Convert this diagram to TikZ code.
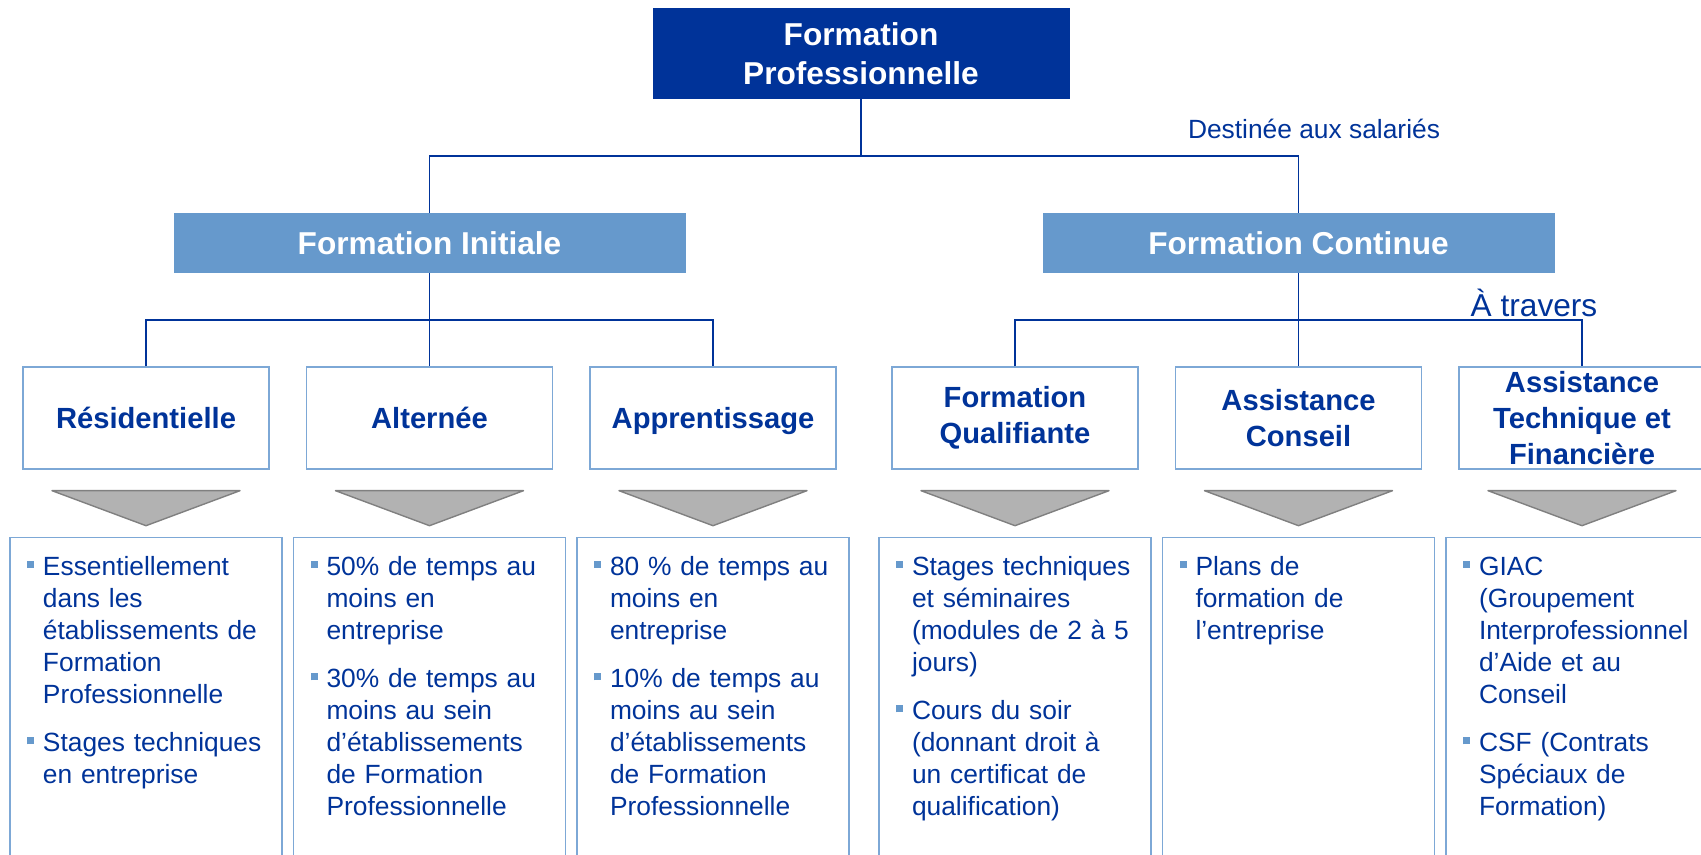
\documentclass[tikz,border=0pt]{standalone}
\usepackage{fontspec}
\setmainfont{Liberation Sans}
\usetikzlibrary{positioning,calc}

\definecolor{bleufonce}{RGB}{0,51,153}
\definecolor{bleumoyen}{RGB}{102,153,204}
\definecolor{bleuclair}{RGB}{125,168,214}
\definecolor{grisfleche}{RGB}{178,178,178}

% puce carree des listes
\newcommand{\puce}{\par\noindent\hangindent=0.34cm\hangafter=1\strut\makebox[0.34cm][l]{\hspace{0.02cm}\textcolor{bleumoyen}{\rule[4.2pt]{4pt}{4pt}}}}
\newcommand{\ecart}{\par\vspace{9.5pt}}

\begin{document}
\begin{tikzpicture}[
    racine/.style={fill=bleufonce, minimum width=8.34cm, minimum height=1.82cm, inner sep=0pt,
        align=center, text=white, font=\bfseries\fontsize{18}{22}\selectfont},
    branche/.style={fill=bleumoyen, minimum width=10.24cm, minimum height=1.2cm, inner sep=0pt,
        text=white, font=\bfseries\fontsize{18}{21.6}\selectfont},
    sous/.style={draw=bleuclair, line width=0.8pt, minimum width=4.92cm, minimum height=2.04cm,
        inner sep=0pt, align=center, text=bleufonce, font=\bfseries\fontsize{16.6}{20.4}\selectfont},
    corps/.style={draw=bleuclair, line width=0.8pt, anchor=north, text width=4.80cm,
        inner xsep=0.32cm, inner ysep=0.11cm, align=left, text=bleufonce,
        font=\fontsize{15}{18.2}\selectfont},
    lien/.style={draw=bleufonce, line width=0.85pt},
    fleche/.style={fill=grisfleche, draw=gray, line width=0.8pt, line join=round},
    etiquette/.style={text=bleufonce, inner sep=0pt}
]

\clip (0,0) rectangle (34.02,17.1);

\node[racine] (titre) at (17.22,16.03) {Formation\\Professionnelle};

\node[branche] (fi) at (8.59,12.24) {Formation Initiale};
\node[branche] (fc) at (25.97,12.24) {Formation Continue};

\node[etiquette, font=\fontsize{15}{18}\selectfont] (dest) at (26.28,14.52) {Destinée aux salariés};
\node[etiquette, font=\fontsize{18}{21.6}\selectfont] (travers) at (30.68,11.04) {À travers};

\node[sous] (r1) at (2.92,8.74) {Résidentielle};
\node[sous] (r2) at (8.59,8.74) {Alternée};
\node[sous] (r3) at (14.26,8.74) {\raisebox{0pt}[\height][0pt]{Apprentissage}};
\node[sous] (r4) at (20.30,8.74) {Formation\\Qualifiante};
\node[sous] (r5) at (25.97,8.74) {Assistance\\Conseil};
\node[sous] (r6) at (31.64,8.74) {Assistance\\Technique et\\Financière};

% liaisons
\coordinate (n1) at (17.22,13.98);
\coordinate (n2) at (8.59,10.70);
\coordinate (n3) at (25.97,10.70);
\draw[lien] (titre.south) -- (n1);
\draw[lien] (fi.north) |- (n1) -| (fc.north);
\draw[lien] (fi.south) -- (r2.north);
\draw[lien] (r1.north) |- (n2) -| (r3.north);
\draw[lien] (fc.south) -- (r5.north);
\draw[lien] (r4.north) |- (n3) -| (r6.north);

% fleches grises
\draw[fleche] ($(r1.south)+(-1.88,-0.42)$) -- ($(r1.south)+(1.88,-0.42)$) -- ($(r1.south)+(0,-1.12)$) -- cycle;
\draw[fleche] ($(r2.south)+(-1.88,-0.42)$) -- ($(r2.south)+(1.88,-0.42)$) -- ($(r2.south)+(0,-1.12)$) -- cycle;
\draw[fleche] ($(r3.south)+(-1.88,-0.42)$) -- ($(r3.south)+(1.88,-0.42)$) -- ($(r3.south)+(0,-1.12)$) -- cycle;
\draw[fleche] ($(r4.south)+(-1.88,-0.42)$) -- ($(r4.south)+(1.88,-0.42)$) -- ($(r4.south)+(0,-1.12)$) -- cycle;
\draw[fleche] ($(r5.south)+(-1.88,-0.42)$) -- ($(r5.south)+(1.88,-0.42)$) -- ($(r5.south)+(0,-1.12)$) -- cycle;
\draw[fleche] ($(r6.south)+(-1.88,-0.42)$) -- ($(r6.south)+(1.88,-0.42)$) -- ($(r6.south)+(0,-1.12)$) -- cycle;

\node[corps] (d1) at (2.92,6.36) {\puce Essentiellement\newline dans les\newline établissements de\newline Formation\newline Professionnelle\ecart
  \puce Stages techniques\newline en entreprise\par\vspace*{5cm}};
\node[corps] (d2) at (8.59,6.36) {\puce 50\% de temps au\newline moins en\newline entreprise\ecart
  \puce 30\% de temps au\newline moins au sein\newline d’établissements\newline de Formation\newline Professionnelle\par\vspace*{5cm}};
\node[corps] (d3) at (14.26,6.36) {\puce 80 \% de temps au\newline moins en\newline entreprise\ecart
  \puce 10\% de temps au\newline moins au sein\newline d’établissements\newline de Formation\newline Professionnelle\par\vspace*{5cm}};
\node[corps] (d4) at (20.30,6.36) {\puce Stages techniques\newline et séminaires\newline (modules de 2 à 5\newline jours)\ecart
  \puce Cours du soir\newline (donnant droit à\newline un certificat de\newline qualification)\par\vspace*{5cm}};
\node[corps] (d5) at (25.97,6.36) {\puce Plans de\newline formation de\newline l’entreprise\par\vspace*{5cm}};
\node[corps] (d6) at (31.64,6.36) {\puce GIAC\newline (Groupement\newline Interprofessionnel\newline d’Aide et au\newline Conseil\ecart
  \puce CSF (Contrats\newline Spéciaux de\newline Formation)\par\vspace*{5cm}};

\end{tikzpicture}
\end{document}
